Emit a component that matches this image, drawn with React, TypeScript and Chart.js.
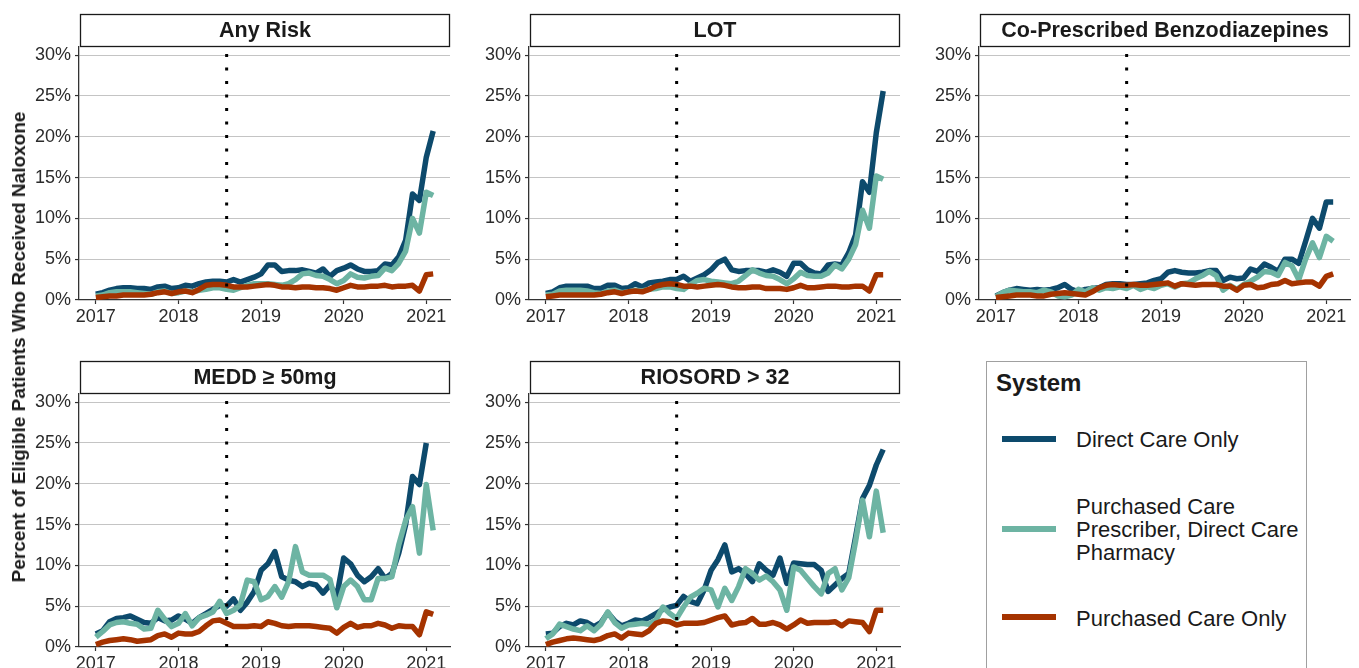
import React, { useEffect, useRef } from 'react';
import { Chart, registerables } from 'chart.js';

Chart.register(...registerables);

const FONT = "'Liberation Sans', Arial, Helvetica, sans-serif";

// Monthly series: Jan 2017 ... Feb 2021 (50 months)
const START_YEAR = 2017;
const POLICY_DATE = 2018 + 7 / 12; // Aug 2018
const YEAR_TICKS = [2017, 2018, 2019, 2020, 2021];
const PCT_TICKS = [0, 5, 10, 15, 20, 25, 30];
const X_MIN = 2016.796;
const X_MAX = 2021.287;
const Y_MAX = 31;

const SYSTEMS = ['Direct Care Only', 'Purchased Care Prescriber, Direct Care Pharmacy', 'Purchased Care Only'];
const SYSTEM_LINES = [['Direct Care Only'], ['Purchased Care', 'Prescriber, Direct Care', 'Pharmacy'], ['Purchased Care Only']];
const COLORS = ['#0d4a6c', '#6db4a3', '#a53300'];

const ANY_RISK_DIRECT = [0.7, 0.9, 1.2, 1.4, 1.5, 1.5, 1.4, 1.4, 1.3, 1.6, 1.7, 1.4, 1.5, 1.8, 1.7, 2.0, 2.2, 2.3, 2.3, 2.2, 2.5, 2.2, 2.5, 2.8, 3.2, 4.3, 4.3, 3.5, 3.6, 3.6, 3.7, 3.5, 3.3, 3.8, 2.9, 3.6, 3.9, 4.3, 3.8, 3.5, 3.5, 3.6, 4.4, 4.3, 5.3, 7.3, 13.0, 12.2, 17.5, 20.7];
const ANY_RISK_PPDC = [0.5, 0.6, 0.9, 1.0, 1.0, 1.0, 0.9, 0.8, 0.7, 1.0, 1.1, 0.8, 0.9, 1.1, 1.0, 1.2, 1.3, 1.5, 1.5, 1.3, 1.2, 1.5, 1.8, 2.0, 2.0, 2.0, 1.9, 1.8, 2.0, 2.5, 3.2, 3.3, 3.0, 2.9, 2.5, 2.0, 2.4, 3.2, 2.8, 2.7, 2.9, 3.0, 3.9, 3.6, 4.5, 6.0, 10.0, 8.2, 13.2, 12.8];
const ANY_RISK_PCO = [0.3, 0.4, 0.5, 0.5, 0.6, 0.6, 0.6, 0.6, 0.7, 0.9, 1.0, 0.8, 1.0, 1.1, 0.9, 1.3, 1.8, 1.9, 1.9, 1.8, 1.6, 1.6, 1.6, 1.7, 1.8, 1.9, 1.8, 1.6, 1.6, 1.5, 1.6, 1.6, 1.5, 1.5, 1.4, 1.2, 1.5, 1.8, 1.6, 1.6, 1.7, 1.7, 1.8, 1.6, 1.7, 1.7, 1.8, 1.1, 3.1, 3.2];

const LOT_DIRECT = [0.8, 1.0, 1.5, 1.7, 1.7, 1.7, 1.7, 1.4, 1.4, 1.8, 1.8, 1.4, 1.5, 2.0, 1.6, 2.1, 2.2, 2.3, 2.5, 2.5, 2.9, 2.3, 2.7, 3.1, 3.7, 4.6, 5.0, 3.7, 3.5, 3.6, 3.6, 3.6, 3.4, 3.7, 3.4, 2.9, 4.5, 4.5, 3.7, 3.3, 3.2, 4.3, 4.4, 4.3, 5.8, 8.0, 14.5, 13.2, 20.5, 25.6];
const LOT_PPDC = [0.6, 0.7, 1.1, 1.2, 1.2, 1.2, 1.1, 0.9, 0.8, 1.1, 1.2, 0.9, 1.0, 1.2, 1.1, 1.3, 1.4, 1.6, 1.6, 1.4, 1.3, 1.9, 2.4, 2.5, 2.3, 2.2, 2.1, 2.0, 2.3, 3.0, 3.7, 3.3, 3.0, 2.9, 2.5, 2.0, 2.6, 3.4, 3.0, 2.9, 2.9, 3.3, 4.3, 3.8, 5.0, 6.8, 11.0, 8.8, 15.2, 14.8];
const LOT_PCO = [0.4, 0.5, 0.6, 0.6, 0.6, 0.6, 0.6, 0.6, 0.7, 0.9, 1.0, 0.8, 1.0, 1.1, 1.0, 1.3, 1.7, 1.9, 2.0, 1.9, 1.7, 1.7, 1.6, 1.7, 1.8, 1.9, 1.8, 1.6, 1.5, 1.5, 1.6, 1.6, 1.4, 1.4, 1.4, 1.3, 1.5, 1.8, 1.5, 1.5, 1.6, 1.7, 1.7, 1.6, 1.6, 1.7, 1.7, 1.1, 3.1, 3.1];

const BENZO_DIRECT = [0.5, 0.9, 1.2, 1.4, 1.3, 1.2, 1.3, 1.2, 1.3, 1.5, 1.9, 1.3, 1.0, 1.3, 1.4, 1.5, 1.9, 2.0, 2.0, 1.9, 1.9, 2.0, 2.1, 2.4, 2.6, 3.4, 3.6, 3.4, 3.3, 3.3, 3.4, 3.6, 3.6, 2.4, 2.8, 2.6, 2.7, 3.8, 3.5, 4.4, 4.0, 3.5, 5.0, 5.0, 4.5, 7.2, 10.0, 8.8, 12.0, 12.0];
const BENZO_PPDC = [0.4, 0.9, 1.2, 1.1, 1.0, 1.0, 0.9, 1.2, 1.0, 0.5, 0.4, 0.6, 1.3, 1.0, 1.5, 1.2, 1.5, 1.4, 1.6, 1.4, 1.8, 1.3, 1.6, 1.4, 1.8, 2.0, 1.6, 2.0, 2.1, 2.6, 3.0, 3.5, 3.0, 1.2, 1.8, 1.3, 1.9, 2.3, 2.8, 3.5, 3.4, 3.0, 4.6, 4.2, 2.5, 5.0, 7.0, 5.2, 7.8, 7.2];
const BENZO_PCO = [0.3, 0.4, 0.5, 0.6, 0.6, 0.6, 0.5, 0.5, 0.7, 0.8, 0.9, 0.8, 0.7, 0.6, 1.0, 1.5, 1.8, 1.9, 1.8, 1.8, 1.9, 1.8, 1.8, 1.9, 2.0, 2.1, 1.7, 2.0, 1.9, 1.8, 1.9, 1.9, 1.9, 1.7, 1.7, 1.2, 1.8, 1.9, 1.5, 1.6, 1.9, 2.0, 2.4, 2.0, 2.1, 2.2, 2.2, 1.7, 2.9, 3.2];

const MEDD_DIRECT = [1.6, 2.0, 3.1, 3.5, 3.6, 3.8, 3.4, 3.0, 2.9, 3.6, 3.2, 3.3, 3.8, 3.4, 2.9, 3.6, 4.1, 4.6, 5.1, 5.0, 5.9, 4.5, 5.5, 6.8, 9.4, 10.2, 11.7, 8.6, 8.2, 8.0, 7.4, 7.8, 7.6, 6.6, 7.6, 6.2, 10.9, 10.2, 8.8, 8.0, 8.6, 9.6, 8.4, 9.0, 11.5, 15.0, 20.9, 19.9, 25.0, null];
const MEDD_PPDC = [1.2, 1.9, 2.7, 3.0, 3.1, 2.9, 2.8, 2.2, 2.3, 4.5, 3.4, 2.5, 2.9, 4.1, 2.6, 3.6, 3.9, 4.3, 5.6, 4.1, 4.5, 5.2, 8.2, 8.0, 5.8, 6.2, 7.4, 6.1, 8.0, 12.3, 9.2, 8.8, 8.8, 8.8, 8.3, 4.8, 7.4, 8.2, 7.4, 5.8, 5.8, 8.4, 8.4, 8.6, 12.5, 15.5, 17.2, 11.5, 19.9, 14.3];
const MEDD_PCO = [0.3, 0.6, 0.8, 0.9, 1.0, 0.9, 0.7, 0.8, 0.9, 1.4, 1.6, 1.2, 1.7, 1.6, 1.6, 1.9, 2.6, 3.2, 3.3, 2.9, 2.5, 2.5, 2.5, 2.6, 2.5, 3.1, 2.9, 2.6, 2.5, 2.6, 2.6, 2.6, 2.5, 2.4, 2.3, 1.7, 2.4, 2.9, 2.4, 2.6, 2.6, 2.9, 2.7, 2.3, 2.6, 2.5, 2.5, 1.5, 4.3, 4.0];

const RIOSORD_DIRECT = [1.6, 1.7, 2.5, 2.9, 2.7, 3.2, 3.0, 2.5, 3.0, 4.2, 3.2, 2.6, 2.9, 3.3, 3.2, 3.6, 4.1, 4.6, 4.9, 5.1, 6.2, 5.6, 5.3, 7.0, 9.4, 10.7, 12.5, 9.2, 9.6, 9.0, 8.0, 10.2, 9.4, 8.8, 10.9, 7.8, 10.3, 10.2, 10.1, 10.1, 9.4, 6.8, 7.6, 8.4, 9.0, 13.5, 18.2, 19.8, 22.3, 24.2];
const RIOSORD_PPDC = [1.0, 1.6, 2.8, 2.5, 2.2, 2.0, 2.6, 2.0, 2.8, 4.3, 3.0, 2.3, 2.7, 2.8, 2.9, 2.8, 3.3, 4.9, 4.1, 3.5, 4.9, 6.1, 6.6, 7.2, 7.0, 4.9, 7.2, 5.7, 7.4, 9.6, 9.0, 8.2, 8.7, 8.0, 7.0, 4.5, 9.8, 9.4, 8.4, 7.4, 6.5, 9.0, 9.6, 7.0, 8.5, 13.0, 18.0, 13.5, 19.1, 14.0];
const RIOSORD_PCO = [0.3, 0.6, 0.8, 1.0, 1.1, 1.0, 0.9, 0.8, 1.0, 1.4, 1.6, 1.1, 1.7, 1.6, 1.5, 2.0, 2.9, 3.2, 3.1, 2.7, 2.9, 2.9, 2.9, 3.0, 3.3, 3.6, 3.8, 2.7, 2.9, 3.0, 3.5, 2.8, 2.8, 3.0, 2.7, 2.2, 2.7, 3.3, 2.9, 3.0, 3.0, 3.0, 3.1, 2.6, 3.2, 3.1, 3.0, 1.9, 4.5, 4.5];

const PANELS = [
  { title: 'Any Risk', series: [ANY_RISK_DIRECT, ANY_RISK_PPDC, ANY_RISK_PCO], left: 29, top: 0 },
  { title: 'LOT', series: [LOT_DIRECT, LOT_PPDC, LOT_PCO], left: 479, top: 0 },
  { title: 'Co-Prescribed Benzodiazepines', series: [BENZO_DIRECT, BENZO_PPDC, BENZO_PCO], left: 929, top: 0 },
  { title: 'MEDD ≥ 50mg', series: [MEDD_DIRECT, MEDD_PPDC, MEDD_PCO], left: 29, top: 347 },
  { title: 'RIOSORD > 32', series: [RIOSORD_DIRECT, RIOSORD_PPDC, RIOSORD_PCO], left: 479, top: 347 },
];

const CANVAS_W = 427;
const CANVAS_H = 330;

const stripPlugin = {
  id: 'strip',
  afterDraw(chart: any, _args: any, opts: any) {
    const { ctx, chartArea } = chart;
    ctx.save();
    const x0 = chartArea.left + 1.5;
    const x1 = chartArea.right - 0.5;
    const y0 = chartArea.top - 32.5;
    const y1 = chartArea.top - 0.5;
    ctx.fillStyle = '#ffffff';
    ctx.fillRect(x0, y0, x1 - x0, y1 - y0);
    ctx.strokeStyle = '#1a1a1a';
    ctx.lineWidth = 1.3;
    ctx.strokeRect(x0, y0, x1 - x0, y1 - y0);
    ctx.font = `bold 21.5px ${FONT}`;
    ctx.fillStyle = '#1a1a1a';
    ctx.textAlign = 'center';
    ctx.textBaseline = 'middle';
    ctx.fillText(opts.text, (x0 + x1) / 2, (y0 + y1) / 2 + 1);
    ctx.restore();
  },
};

function Panel({ title, series, left, top }: { title: string; series: (number | null)[][]; left: number; top: number }) {
  const ref = useRef<HTMLCanvasElement | null>(null);
  useEffect(() => {
    if (!ref.current) return;
    const datasets: any[] = series.map((vals, k) => ({
      label: SYSTEMS[k],
      data: vals.map((v, i) => ({ x: START_YEAR + i / 12, y: v })),
      borderColor: COLORS[k],
      backgroundColor: COLORS[k],
      borderWidth: 5.5,
      borderJoinStyle: 'round',
      borderCapStyle: 'butt',
      pointRadius: 0,
      tension: 0,
      fill: false,
      order: 3 - k,
    }));
    datasets.push({
      label: 'policy',
      data: [{ x: POLICY_DATE, y: 0 }, { x: POLICY_DATE, y: Y_MAX }],
      borderColor: '#000000',
      borderWidth: 3,
      borderDash: [3, 10.5],
      borderCapStyle: 'butt',
      pointRadius: 0,
      fill: false,
      order: 0,
    });
    const chart = new Chart(ref.current, {
      type: 'line',
      data: { datasets },
      plugins: [stripPlugin],
      options: {
        responsive: false,
        animation: false,
        events: [],
        layout: { padding: { top: 47, right: 6, left: 0, bottom: 0 } },
        plugins: {
          legend: { display: false },
          tooltip: { enabled: false },
          title: { display: false },
          strip: { text: title },
        } as any,
        scales: {
          x: {
            type: 'linear',
            min: X_MIN,
            max: X_MAX,
            afterBuildTicks: (s: any) => { s.ticks = YEAR_TICKS.map((v) => ({ value: v })); },
            afterFit: (s: any) => { s.height = 30; s.paddingLeft = 0; s.paddingRight = 0; },
            ticks: {
              callback: (v: any) => String(v),
              color: '#2b2b2b',
              font: { family: FONT, size: 18 },
              padding: 2,
              maxRotation: 0,
              autoSkip: false,
            },
            grid: { display: true, drawOnChartArea: false, drawTicks: true, tickLength: 4, tickColor: '#333333', tickWidth: 1.2 },
            border: { display: true, color: '#333333', width: 1.3 },
          },
          y: {
            type: 'linear',
            min: 0,
            max: Y_MAX,
            afterBuildTicks: (s: any) => { s.ticks = PCT_TICKS.map((v) => ({ value: v })); },
            afterFit: (s: any) => { s.width = 50; s.paddingTop = 0; s.paddingBottom = 0; },
            ticks: {
              callback: (v: any) => `${v}%`,
              color: '#2b2b2b',
              font: { family: FONT, size: 18 },
              padding: 4,
              autoSkip: false,
            },
            grid: { display: true, color: '#c4c4c4', lineWidth: 1.1, drawTicks: true, tickLength: 4, tickColor: '#333333', tickWidth: 1.2 },
            border: { display: true, color: '#333333', width: 1.3 },
          },
        },
      } as any,
    });
    return () => chart.destroy();
  }, []);
  return (
    <canvas
      ref={ref}
      width={CANVAS_W}
      height={CANVAS_H}
      style={{ position: 'absolute', left, top, width: CANVAS_W, height: CANVAS_H }}
    />
  );
}

function Legend() {
  const keyTops = [439, 528.7, 617.3];
  const textStyle: React.CSSProperties = {
    position: 'absolute',
    left: 1076,
    fontFamily: FONT,
    fontSize: 22,
    lineHeight: '23.3px',
    color: '#1a1a1a',
    whiteSpace: 'nowrap',
  };
  return (
    <>
      <div
        style={{
          position: 'absolute',
          left: 986,
          top: 361,
          width: 321,
          height: 330,
          border: '1px solid #a0a0a0',
          boxSizing: 'border-box',
          background: '#fff',
        }}
      />
      <div
        style={{
          position: 'absolute',
          left: 996,
          top: 382.7 - 14,
          fontFamily: FONT,
          fontWeight: 'bold',
          fontSize: 24,
          lineHeight: '28px',
          color: '#1a1a1a',
        }}
      >
        System
      </div>
      {SYSTEMS.map((s, k) => (
        <React.Fragment key={s}>
          <div
            style={{
              position: 'absolute',
              left: 1002,
              top: keyTops[k] - 3,
              width: 54,
              height: 6,
              background: COLORS[k],
            }}
          />
          <div style={{ ...textStyle, top: keyTops[k] - (SYSTEM_LINES[k].length * 23.3) / 2 + 1 }}>
            {SYSTEM_LINES[k].map((ln, j) => (
              <div key={j}>{ln}</div>
            ))}
          </div>
        </React.Fragment>
      ))}
    </>
  );
}

export default function App() {
  return (
    <div
      style={{
        position: 'absolute',
        left: 0,
        top: 0,
        width: 1359,
        height: 668,
        overflow: 'hidden',
        background: '#ffffff',
      }}
    >
      {PANELS.map((p) => (
        <Panel key={p.title} title={p.title} series={p.series} left={p.left} top={p.top} />
      ))}
      <div
        style={{
          position: 'absolute',
          left: 19,
          top: 347,
          transform: 'translate(-50%, -50%) rotate(-90deg)',
          fontFamily: FONT,
          fontWeight: 'bold',
          fontSize: 19,
          color: '#1a1a1a',
          whiteSpace: 'nowrap',
          lineHeight: '22px',
        }}
      >
        Percent of Eligible Patients Who Received Naloxone
      </div>
      <Legend />
    </div>
  );
}
